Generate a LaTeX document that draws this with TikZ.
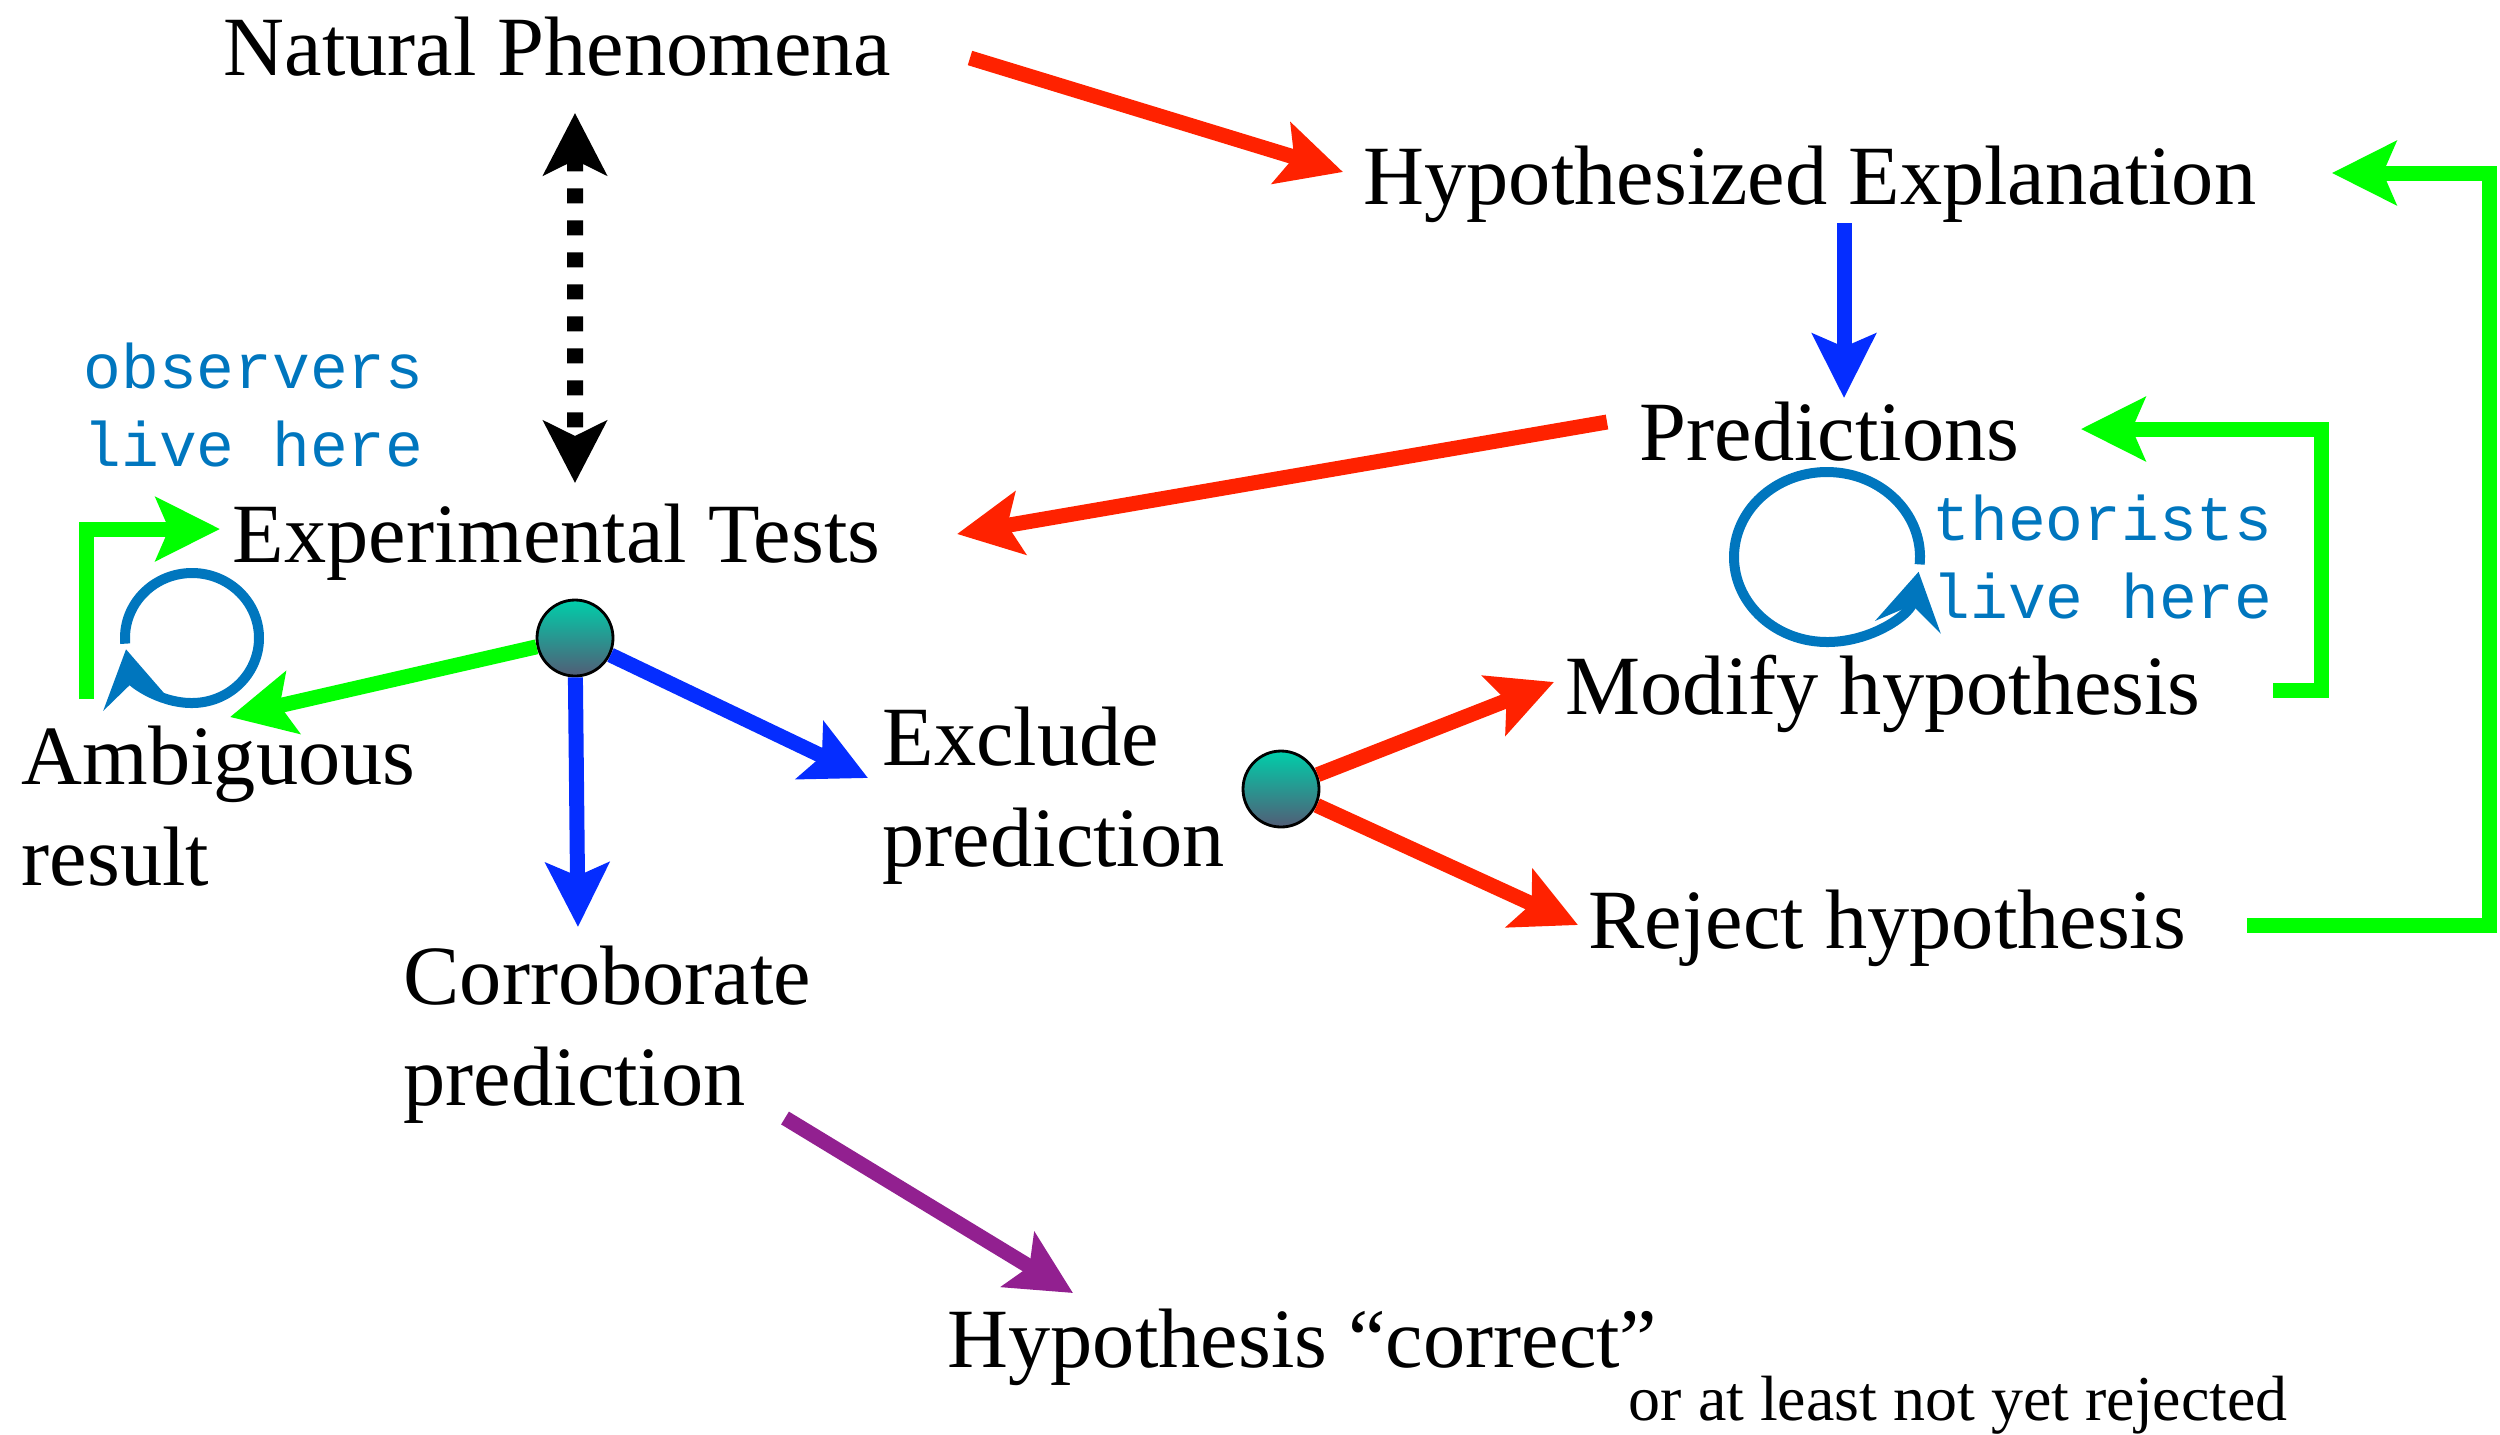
\documentclass[tikz,border=0pt]{standalone}
\usepackage{fontspec}
\setmainfont{Liberation Serif}
\setmonofont{Liberation Mono}
\usetikzlibrary{arrows.meta}
\definecolor{hotred}{RGB}{255,34,0}
\definecolor{brightgreen}{RGB}{0,255,0}
\definecolor{deepblue}{RGB}{5,45,255}
\definecolor{plum}{RGB}{146,32,144}
\definecolor{inkblue}{RGB}{0,118,190}
\definecolor{ballteal}{RGB}{0,206,170}
\definecolor{ballslate}{RGB}{82,92,118}
\tikzstyle{txt} = [inner sep=0pt, anchor=base west, align=left, font=\fontsize{24}{28.7}\selectfont]
\tikzstyle{smalltxt} = [inner sep=0pt, anchor=base west, font=\fontsize{18.2}{22}\selectfont]
\tikzstyle{monotxt} = [inner sep=0pt, anchor=base west, align=left, text=inkblue, font=\ttfamily\fontsize{17.9}{22}\selectfont]
\tikzstyle{ball} = [circle, draw=black, line width=0.8pt, top color=ballteal, bottom color=ballslate, minimum size=0.76cm, inner sep=0pt]
\tikzstyle{fat} = [line width=0.15cm, -{Stealth[length=0.64cm, width=0.63cm, inset=0.13cm]}]
\tikzstyle{redarr} = [fat, hotred]
\tikzstyle{bluearr} = [fat, deepblue]
\tikzstyle{greenarr} = [fat, brightgreen]
\tikzstyle{plumarr} = [fat, plum]
\tikzstyle{dotarr} = [line width=0.16cm, dash pattern=on 0.15cm off 0.17cm, {Stealth[length=0.62cm, width=0.63cm, inset=0.15cm]}-{Stealth[length=0.62cm, width=0.63cm, inset=0.15cm]}]
\tikzstyle{loopy} = [inkblue, line width=0.1cm, -{Stealth[length=0.56cm, width=0.66cm, inset=0.22cm]}]

\begin{document}
\begin{tikzpicture}
    \useasboundingbox (0,0) rectangle (25,-14.34);
    \node[txt] (np) at (2.23,-0.75) {Natural Phenomena};
    \node[txt] (he) at (13.63,-2.04) {Hypothesized Explanation};
    \node[txt] (pred) at (16.39,-4.60) {Predictions};
    \node[txt] (tests) at (2.32,-5.62) {Experimental Tests};
    \node[txt] (ambig) at (0.21,-8.85) {Ambiguous\\result};
    \node[txt] (excl) at (8.82,-8.66) {Exclude\\prediction};
    \node[txt] (corr) at (4.03,-11.05) {Corroborate\\prediction};
    \node[txt] (mod) at (15.65,-7.14) {Modify hypothesis};
    \node[txt] (rej) at (15.88,-9.48) {Reject hypothesis};
    \node[txt] (right) at (9.47,-13.67) {Hypothesis “correct”};
    \node[smalltxt] (notyet) at (16.28,-14.20) {or at least not yet rejected};
    \node[monotxt] (obs) at (0.83,-4.66) {observers\\live here};
    \node[monotxt] (theo) at (19.32,-6.18) {theorists\\live here};
    \node[ball] (test) at (5.75,-6.38) {};
    \node[ball] (fail) at (12.81,-7.89) {};
    \coordinate (obsloop) at (1.92,-6.38);
    \coordinate (theoloop) at (18.27,-5.57);

    \draw[redarr] ([shift={(0.78,0.17)}]np.base east) -- ([shift={(-0.20,0.32)}]he.base west);
    \draw[dotarr] ([shift={(3.52,-0.38)}]np.base west) -- ([shift={(3.43,0.79)}]tests.base west);
    \draw[bluearr] ([shift={(4.81,-0.19)}]he.base west) -- ([shift={(2.05,0.62)}]pred.base west);
    \draw[redarr] ([shift={(-0.32,0.38)}]pred.base west) -- ([shift={(0.76,0.28)}]tests.base east);
    \draw[greenarr] ([shift={(0.65,1.86)}]ambig.base west) |- ([shift={(-0.12,0.33)}]tests.base west);
    \draw[greenarr] (test) -- ([shift={(2.09,1.68)}]ambig.base west);
    \draw[bluearr] (test) -- ([shift={(1.75,1.78)}]corr.base west);
    \draw[bluearr] (test) -- ([shift={(-0.14,0.88)}]excl.base west);
    \draw[redarr] (fail) -- ([shift={(-0.11,0.32)}]mod.base west);
    \draw[redarr] (fail) -- ([shift={(-0.10,0.23)}]rej.base west);
    \draw[greenarr] ([shift={(0.72,0.24)}]mod.base east) -- ++(0.48,0) |- ([shift={(0.61,0.31)}]pred.base east);
    \draw[greenarr] ([shift={(0.60,0.23)}]rej.base east) -- ++(2.43,0) |- ([shift={(0.75,0.31)}]he.base east);
    \draw[plumarr] ([shift={(3.82,-0.13)}]corr.base west) -- ([shift={(1.26,0.74)}]right.base west);
    \draw[loopy] ([shift={(185:0.67 and 0.65)}]obsloop) arc[start angle=185, end angle=-170, x radius=0.67, y radius=0.65];
    \draw[loopy] ([shift={(-5:0.93 and 0.85)}]theoloop) arc[start angle=-5, end angle=350, x radius=0.93, y radius=0.85];
\end{tikzpicture}
\end{document}
